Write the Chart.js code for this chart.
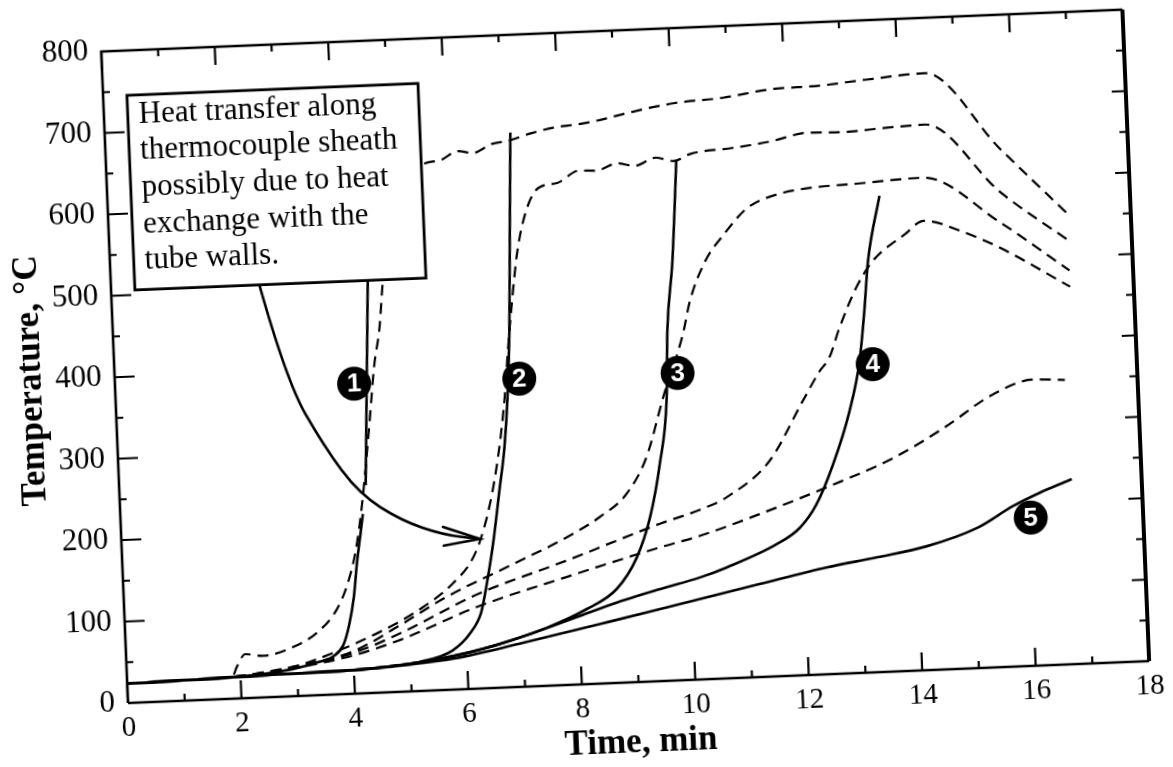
<!DOCTYPE html>
<html>
<head>
<meta charset="utf-8">
<script src="https://cdn.jsdelivr.net/npm/chart.js@4.4.1/dist/chart.umd.min.js"></script>
<style>
  html, body { margin: 0; padding: 0; background: #fff; overflow: hidden; }
  #tempChart {
    position: absolute; left: 0; top: 0;
    transform-origin: 128px 703px;
    transform: rotate(-2.35deg);
  }
</style>
</head>
<body>
<canvas id="tempChart" width="1173" height="820"></canvas>
<script>
// surface temperature, solid traces 1-5 (min, °C)
const s1Time = [0, 1, 2, 2.9, 3.41, 3.65, 3.83, 3.95, 4.05, 4.13, 4.2, 4.27, 4.3, 4.34, 4.41, 4.48, 4.55, 4.6];
const s1Temp = [24, 25, 26.5, 33, 41, 47, 60, 85, 118, 160, 190, 220, null, 255, 350, 445, 540, 600];

const s2Time = [0, 1, 2, 3, 4, 4.5, 5.19, 5.75, 6.08, 6.28, 6.4, 6.54, 6.69, 6.81, 6.9, 6.98, 7.06, 7.14];
const s2Temp = [24, 25, 26.5, 28, 29, 31, 36, 48, 69, 93, 128, 177, 242, 295, 356, 437, 560, 680];

const s3Time = [0, 1, 2, 3, 4, 5, 6, 6.71, 7.42, 8.14, 8.68, 9.06, 9.32, 9.53, 9.7, 9.76, 9.9, 10.04];
const s3Temp = [24, 25, 26.5, 28, 29, 34, 44, 56, 71, 92, 115, 153, 201, 266, 347, 429, 515, 637];

const s4Time = [0, 1, 2, 3, 4, 5, 5.52, 6.5, 7.2, 7.84, 8.6, 9.45, 10.15, 10.63, 11.53, 11.95, 12.26, 12.58, 12.91, 13.12, 13.24, 13.34, 13.59];
const s4Temp = [24, 25, 26.5, 28, 29, 34, 38.5, 52, 66, 80, 97, 113, 125, 136, 162, 181, 209, 257, 322, 382, 443, 504, 584];

const s5Time = [0, 1, 2, 3, 4, 5, 5.76, 7, 8.5, 10.02, 11.2, 12.39, 13.3, 14.17, 15.07, 15.72, 16.2, 16.77];
const s5Temp = [24, 25, 26.5, 28, 29, 33, 38, 54, 75, 97, 114, 131, 141, 152, 172, 197, 212, 227];

// thermocouple traces, dashed
const t1Time = [0, 1, 1.85, 1.95, 2.1, 2.4, 2.9, 3.4, 3.75, 3.95, 4.1, 4.2, 4.3, 4.45, 4.58, 4.69, 4.8, 5.0, 5.3, 5.59, 5.9, 6.2, 6.47, 6.8, 7.09, 7.5, 7.9, 8.35, 8.65, 9.2, 10.05, 10.9, 11.74, 12.6, 13.43, 14.48, 15.74, 16.88];
const t1Temp = [24, 25, 27, 40, 54, 51, 59, 78, 105, 135, 170, 205, 250, 330, 403, 444, 510, 580, 630, 646, 650, 660, 657, 667, 670, 678, 684, 687, 690, 698, 708, 712, 720, 722, 727, 732, 636, 553];

const t2Time = [0, 1, 1.9, 2.5, 3, 3.6, 4.5, 5.2, 5.8, 6.18, 6.38, 6.57, 6.72, 6.85, 6.94, 7.05, 7.18, 7.38, 7.6, 7.93, 8.32, 8.62, 9.0, 9.3, 9.68, 9.99, 10.3, 11.03, 11.7, 12.38, 13.0, 13.74, 14.45, 15.71, 16.86];
const t2Temp = [24, 25, 27, 31, 37, 50, 75, 100, 130, 161, 194, 242, 295, 356, 413, 474, 535, 587, 611, 616, 630, 629, 637, 633, 642, 637, 645, 650, 656, 665, 664, 667, 669, 583, 521];

const t3Time = [0, 1, 1.9, 3, 4, 4.85, 5.68, 6.88, 7.84, 8.43, 8.92, 9.3, 9.64, 10.03, 10.18, 10.48, 10.83, 11.26, 11.8, 12.35, 13.2, 14.37, 15.7, 16.88];
const t3Temp = [24, 25, 27, 37, 52, 82, 114, 151, 181, 204, 231, 275, 348, 424, 465, 513, 545, 576, 591, 597, 600, 604, 545, 483];

const t4Time = [0, 1, 1.9, 3, 4, 4.85, 6.2, 7.84, 9.49, 10.2, 10.68, 11.47, 12.09, 12.41, 12.59, 12.79, 13.11, 13.42, 14.0, 14.35, 15.02, 15.68, 16.88];
const t4Temp = [24, 25, 27, 36, 50, 72, 115, 153, 193, 208, 222, 265, 336, 372, 388, 424, 472, 504, 535, 551, 536, 514, 463];

const t5Time = [0, 1, 1.9, 3, 4, 4.85, 6.2, 7.84, 9.47, 10.18, 11.26, 12.44, 13.65, 14.55, 15.45, 16.16, 16.72];
const t5Temp = [24, 25, 27, 35, 47, 64, 100, 133, 164, 176, 200, 229, 262, 296, 335, 351, 349];

// numbered markers on the solid traces
const markerTime = [4.21, 7.12, 9.91, 13.35, 16.02];
const markerTemp = [380, 378, 377, 378, 182];
const markerText = ['1', '2', '3', '4', '5'];

// note and the arrow leading from it
const noteLines = ['Heat transfer along', 'thermocouple sheath', 'possibly due to heat', 'exchange with the', 'tube walls.'];
const noteBox = { t0: 0.42, t1: 5.55, low: 506, high: 745 };
const arrowTime = [2.61, 3.02, 3.64, 4.22, 4.94, 5.68, 6.31];
const arrowTemp = [507, 387, 304, 245, 210, 190, 183.5];
const arrowWing = { t: 5.67, up: 200, down: 177 };

const SERIF = "'Liberation Serif', 'Times New Roman', Times, serif";

function toPoints(xs, ys) {
    return xs.map((x, i) => ({ x: x, y: ys[i] }));
}

function solid(xs, ys) {
    return { data: toPoints(xs, ys), borderColor: '#000', borderWidth: 2.6, pointRadius: 0, cubicInterpolationMode: 'monotone', spanGaps: false };
}

function dashed(xs, ys) {
    return { data: toPoints(xs, ys), borderColor: '#000', borderWidth: 2.2, borderDash: [11, 7], pointRadius: 0, cubicInterpolationMode: 'monotone' };
}

// plot frame with inward ticks on all four sides
const frameTicks = {
    id: 'frameTicks',
    beforeDatasetsDraw(chart) {
        const { ctx, chartArea: a, scales: { x, y } } = chart;
        ctx.save();
        ctx.strokeStyle = '#000';
        ctx.lineWidth = 2.2;
        ctx.beginPath();
        for (let t = 0; t <= 18; t++) {
            const px = x.getPixelForValue(t);
            const len = t % 2 === 0 ? 18 : 7;
            ctx.moveTo(px, a.bottom); ctx.lineTo(px, a.bottom - len);
            ctx.moveTo(px, a.top); ctx.lineTo(px, a.top + len);
        }
        for (let v = 0; v <= 800; v += 50) {
            const py = y.getPixelForValue(v);
            const major = v % 100 === 0;
            ctx.moveTo(a.left, py); ctx.lineTo(a.left + (major ? 20 : 7), py);
            ctx.moveTo(a.right, py); ctx.lineTo(a.right - (major ? 14 : 8), py);
        }
        ctx.stroke();
        ctx.lineWidth = 2.6;
        ctx.beginPath();
        ctx.moveTo(a.left, a.bottom); ctx.lineTo(a.left, a.top); ctx.lineTo(a.right, a.top);
        ctx.moveTo(a.left, a.bottom); ctx.lineTo(a.right, a.bottom);
        ctx.stroke();
        ctx.lineWidth = 4;
        ctx.beginPath();
        ctx.moveTo(a.right, a.top); ctx.lineTo(a.right, a.bottom);
        ctx.stroke();
        ctx.restore();
    }
};

// note box, curved arrow and the numbered circles
const notes = {
    id: 'notes',
    afterDatasetsDraw(chart) {
        const { ctx, scales: { x, y } } = chart;
        ctx.save();
        ctx.strokeStyle = '#000';
        ctx.lineCap = 'round';

        const pts = arrowTime.map((t, i) => [x.getPixelForValue(t), y.getPixelForValue(arrowTemp[i])]);
        ctx.lineWidth = 2.6;
        ctx.beginPath();
        ctx.moveTo(pts[0][0], pts[0][1]);
        for (let i = 1; i < pts.length - 1; i++) {
            const mx = (pts[i][0] + pts[i + 1][0]) / 2;
            const my = (pts[i][1] + pts[i + 1][1]) / 2;
            ctx.quadraticCurveTo(pts[i][0], pts[i][1], mx, my);
        }
        const tip = pts[pts.length - 1];
        ctx.lineTo(tip[0], tip[1]);
        ctx.stroke();
        const wx = x.getPixelForValue(arrowWing.t);
        ctx.beginPath();
        ctx.moveTo(wx, y.getPixelForValue(arrowWing.up));
        ctx.lineTo(tip[0], tip[1]);
        ctx.lineTo(wx, y.getPixelForValue(arrowWing.down));
        ctx.stroke();

        const bx0 = x.getPixelForValue(noteBox.t0), bx1 = x.getPixelForValue(noteBox.t1);
        const by0 = y.getPixelForValue(noteBox.high), by1 = y.getPixelForValue(noteBox.low);
        ctx.fillStyle = '#fff';
        ctx.fillRect(bx0, by0, bx1 - bx0, by1 - by0);
        ctx.lineWidth = 2.8;
        ctx.strokeRect(bx0, by0, bx1 - bx0, by1 - by0);
        ctx.fillStyle = '#000';
        ctx.font = '31px ' + SERIF;
        ctx.textAlign = 'left';
        ctx.textBaseline = 'alphabetic';
        noteLines.forEach((line, i) => {
            ctx.fillText(line, bx0 + 11, by0 + 28 + i * 36.6);
        });

        markerText.forEach((label, i) => {
            const cx = x.getPixelForValue(markerTime[i]);
            const cy = y.getPixelForValue(markerTemp[i]);
            ctx.fillStyle = '#000';
            ctx.beginPath();
            ctx.arc(cx, cy, 17, 0, Math.PI * 2);
            ctx.fill();
            ctx.fillStyle = '#fff';
            ctx.font = "bold 26px 'Liberation Sans', Arial, sans-serif";
            ctx.textAlign = 'center';
            ctx.textBaseline = 'middle';
            ctx.fillText(label, cx, cy + 1);
        });
        ctx.restore();
    }
};

const ctx = document.getElementById('tempChart').getContext('2d');

new Chart(ctx, {
    type: 'line',
    data: {
        datasets: [
            solid(s1Time, s1Temp),
            solid(s2Time, s2Temp),
            solid(s3Time, s3Temp),
            solid(s4Time, s4Temp),
            solid(s5Time, s5Temp),
            dashed(t1Time, t1Temp),
            dashed(t2Time, t2Temp),
            dashed(t3Time, t3Temp),
            dashed(t4Time, t4Temp),
            dashed(t5Time, t5Temp)
        ]
    },
    options: {
        responsive: false,
        animation: false,
        devicePixelRatio: 1,
        layout: { padding: { left: 24, top: 51, right: 23, bottom: 35 } },
        plugins: {
            legend: { display: false },
            tooltip: { enabled: false }
        },
        scales: {
            x: {
                type: 'linear',
                min: 0,
                max: 18,
                grid: { display: false },
                border: { display: false },
                ticks: { stepSize: 2, color: '#000', padding: 0, maxRotation: 0, autoSkip: false, font: { family: SERIF, size: 29 } },
                title: { display: true, text: 'Time, min', color: '#000', padding: { top: 0, bottom: 0 }, font: { family: SERIF, size: 35, weight: 'bold', lineHeight: 1.2 } },
                afterFit(scale) { scale.height = 82; }
            },
            y: {
                min: 0,
                max: 800,
                grid: { display: false },
                border: { display: false },
                ticks: { stepSize: 100, color: '#000', padding: 5, font: { family: SERIF, size: 31 } },
                title: { display: true, text: 'Temperature, °C', color: '#000', padding: { top: 0, bottom: 0 }, font: { family: SERIF, size: 35, weight: 'bold', lineHeight: 1.2 } },
                afterFit(scale) { scale.width = 104; }
            }
        }
    },
    plugins: [frameTicks, notes]
});
</script>
</body>
</html>
